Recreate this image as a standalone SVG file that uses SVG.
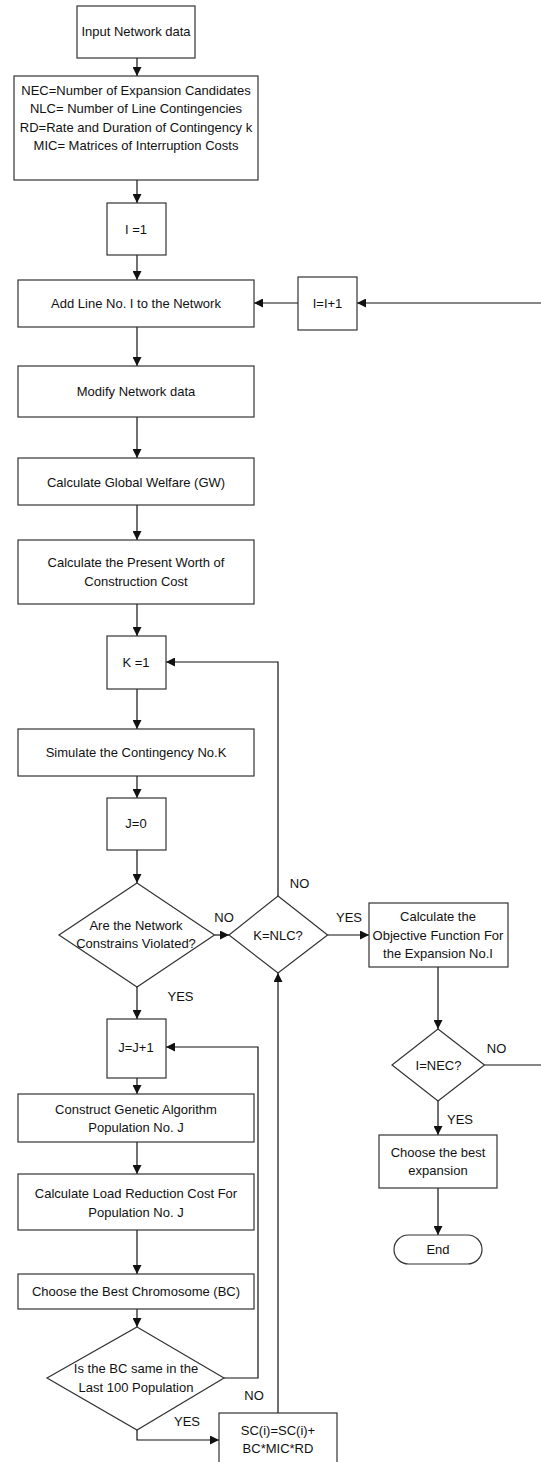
<svg xmlns="http://www.w3.org/2000/svg" width="541" height="1462" viewBox="0 0 541 1462">
<style>
.n{fill:#fff;stroke:#333;stroke-width:1.2}
.t{font-family:"Liberation Sans",Arial,sans-serif;font-size:13px;fill:#111;text-anchor:middle}
.c{fill:none;stroke:#111;stroke-width:1.2}
.a{marker-end:url(#ah)}
</style>
<defs>
<marker id="ah" markerUnits="userSpaceOnUse" markerWidth="10" markerHeight="9" refX="9" refY="4.5" orient="auto">
<path d="M0,0 L9,4.5 L0,9 z" fill="#111"/>
</marker>
</defs>
<rect width="541" height="1462" fill="#fff"/>
<g id="connectors">
<path class="c a" d="M137,58 V76"/>
<path class="c a" d="M137,180 V203"/>
<path class="c a" d="M137,255 V280"/>
<path class="c a" d="M541,303 H357"/>
<path class="c a" d="M298,303 H254"/>
<path class="c a" d="M137,327 V366"/>
<path class="c a" d="M137,417 V458"/>
<path class="c a" d="M137,505 V540"/>
<path class="c a" d="M137,604 V636"/>
<path class="c a" d="M137,689 V729"/>
<path class="c a" d="M137,776 V798"/>
<path class="c a" d="M137,850 V883"/>
<path class="c a" d="M214.5,935 H229"/>
<path class="c a" d="M278,896 V662 H166"/>
<path class="c a" d="M327.6,935 H369"/>
<path class="c a" d="M438,967 V1029"/>
<path class="c" d="M484.5,1065 H541"/>
<path class="c a" d="M438,1101 V1135"/>
<path class="c a" d="M438,1188 V1235"/>
<path class="c a" d="M137,987 V1019"/>
<path class="c a" d="M137,1078 V1094"/>
<path class="c a" d="M137,1142 V1174"/>
<path class="c a" d="M137,1230 V1274"/>
<path class="c a" d="M137,1309 V1327"/>
<path class="c a" d="M224,1378 H258 V1047 H166"/>
<path class="c a" d="M137,1430 V1440 H219"/>
<path class="c a" d="M278,1413 V973"/>
</g>
<g id="labels">
<text class="t" x="224" y="922">NO</text>
<text class="t" x="299.5" y="888">NO</text>
<text class="t" x="349" y="922">YES</text>
<text class="t" x="180.5" y="1001">YES</text>
<text class="t" x="496.5" y="1053">NO</text>
<text class="t" x="460" y="1124">YES</text>
<text class="t" x="254" y="1400">NO</text>
<text class="t" x="187" y="1426">YES</text>
</g>
<g id="input"><rect class="n" x="77" y="6" width="118" height="52"/><text class="t" x="136" y="36">Input Network data</text></g>
<g id="definitions"><rect class="n" x="14" y="76" width="244" height="104"/>
<text class="t" x="136" y="95">NEC=Number of Expansion Candidates</text>
<text class="t" x="136" y="113">NLC= Number of Line Contingencies</text>
<text class="t" x="136" y="132">RD=Rate and Duration of Contingency k</text>
<text class="t" x="136" y="150">MIC= Matrices of Interruption Costs</text></g>
<g id="i1"><rect class="n" x="107" y="203" width="59" height="52"/><text class="t" x="136" y="234">I =1</text></g>
<g id="addline"><rect class="n" x="18" y="280" width="236" height="47"/><text class="t" x="136" y="308">Add Line No. I to the Network</text></g>
<g id="iinc"><rect class="n" x="298" y="277" width="59" height="53"/><text class="t" x="327.5" y="308">I=I+1</text></g>
<g id="modify"><rect class="n" x="18" y="366" width="236" height="51"/><text class="t" x="136" y="396">Modify Network data</text></g>
<g id="gw"><rect class="n" x="18" y="458" width="236" height="47"/><text class="t" x="136" y="487">Calculate Global Welfare (GW)</text></g>
<g id="pw"><rect class="n" x="18" y="540" width="236" height="64"/><text class="t" x="136" y="567">Calculate the Present Worth of</text><text class="t" x="136" y="586">Construction Cost</text></g>
<g id="k1"><rect class="n" x="107" y="636" width="59" height="53"/><text class="t" x="136" y="667">K =1</text></g>
<g id="simulate"><rect class="n" x="18" y="729" width="236" height="47"/><text class="t" x="136" y="757">Simulate the Contingency No.K</text></g>
<g id="j0"><rect class="n" x="107" y="798" width="59" height="52"/><text class="t" x="136" y="828">J=0</text></g>
<g id="violated"><path class="n" d="M137,883 L214.5,935 L137,987 L59,935 Z"/><text class="t" x="136" y="930">Are the Network</text><text class="t" x="136" y="948">Constrains Violated?</text></g>
<g id="knlc"><path class="n" d="M278,896 L327.6,935 L278,973 L229,935 Z"/><text class="t" x="278" y="940">K=NLC?</text></g>
<g id="objective"><rect class="n" x="369" y="903" width="139" height="64"/><text class="t" x="438" y="921">Calculate the</text><text class="t" x="438" y="940">Objective Function For</text><text class="t" x="438" y="958">the Expansion No.I</text></g>
<g id="inec"><path class="n" d="M438,1029 L484.5,1065 L438,1101 L392,1065 Z"/><text class="t" x="438.5" y="1070">I=NEC?</text></g>
<g id="best"><rect class="n" x="379" y="1135" width="118" height="53"/><text class="t" x="438" y="1157">Choose the best</text><text class="t" x="438" y="1175">expansion</text></g>
<g id="end"><rect class="n" x="394" y="1235" width="88" height="29" rx="14.5"/><text class="t" x="438" y="1254">End</text></g>
<g id="jinc"><rect class="n" x="107" y="1019" width="59" height="59"/><text class="t" x="136" y="1052">J=J+1</text></g>
<g id="construct"><rect class="n" x="18" y="1094" width="236" height="48"/><text class="t" x="136" y="1114">Construct Genetic Algorithm</text><text class="t" x="136" y="1132">Population No. J</text></g>
<g id="loadred"><rect class="n" x="18" y="1174" width="236" height="56"/><text class="t" x="136" y="1198">Calculate Load Reduction Cost For</text><text class="t" x="136" y="1217">Population No. J</text></g>
<g id="bc"><rect class="n" x="18" y="1274" width="236" height="35"/><text class="t" x="136" y="1296">Choose the Best Chromosome (BC)</text></g>
<g id="same"><path class="n" d="M137,1327 L224,1378 L137,1430 L47,1378 Z"/><text class="t" x="136" y="1373">Is the BC same in the</text><text class="t" x="136" y="1392">Last 100 Population</text></g>
<g id="sc"><rect class="n" x="219" y="1413" width="118" height="60"/><text class="t" x="278" y="1435">SC(i)=SC(i)+</text><text class="t" x="278" y="1453">BC*MIC*RD</text></g>
</svg>
